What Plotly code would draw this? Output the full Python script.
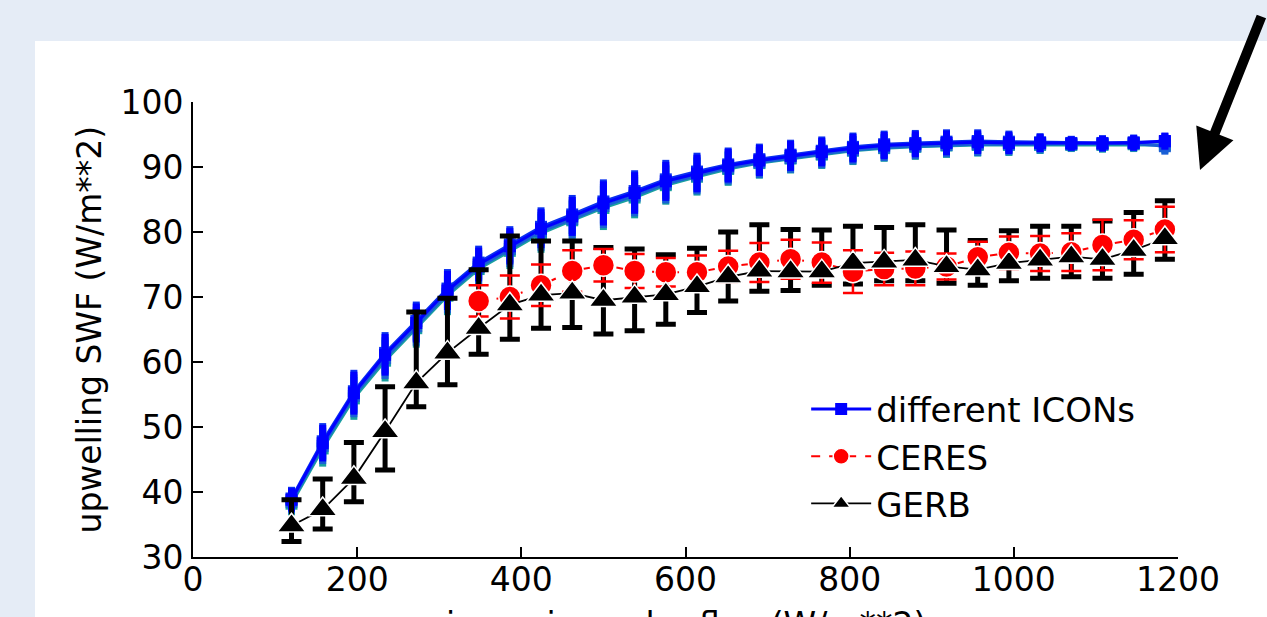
import plotly.graph_objects as go

# ---------------- data ----------------
flux = [120, 158, 196, 234, 272, 310, 348, 386, 424, 462, 500, 538, 576, 614, 652,
        690, 728, 766, 804, 842, 880, 918, 956, 994, 1032, 1070, 1108, 1146, 1184]

icon_a = [38.8, 47.5, 55.2, 61.1, 66.0, 71.0, 75.0, 77.8, 80.5, 82.4, 84.4, 86.0, 87.8, 89.0, 90.2,
          91.0, 91.7, 92.3, 92.9, 93.3, 93.5, 93.7, 93.8, 93.7, 93.7, 93.6, 93.6, 93.7, 94.0]
icon_b = [38.5, 47.1, 54.8, 60.6, 65.5, 70.5, 74.6, 77.4, 80.1, 82.0, 84.0, 85.6, 87.4, 88.7, 89.9,
          90.7, 91.4, 92.0, 92.6, 93.0, 93.2, 93.4, 93.5, 93.5, 93.5, 93.5, 93.5, 93.6, 93.2]
icon_c = [38.2, 46.7, 54.4, 60.2, 65.2, 70.2, 74.3, 77.1, 79.8, 81.8, 83.7, 85.3, 87.2, 88.5, 89.7,
          90.6, 91.3, 91.9, 92.5, 92.9, 93.1, 93.3, 93.4, 93.4, 93.4, 93.4, 93.4, 93.5, 93.4]
icon_d = [39.0, 47.8, 55.5, 61.4, 66.3, 71.3, 75.3, 78.1, 80.8, 82.7, 84.7, 86.3, 88.1, 89.3, 90.4,
          91.2, 91.9, 92.5, 93.1, 93.5, 93.7, 93.9, 94.0, 93.9, 93.8, 93.7, 93.7, 93.8, 93.9]
icon_err = [1.8, 2.8, 3.3, 3.2, 3.0, 3.0, 2.6, 2.8, 3.0, 3.0, 3.4, 3.2, 3.0, 2.9, 2.6,
            2.4, 2.3, 2.2, 2.2, 2.1, 2.0, 1.9, 1.8, 1.7, 1.4, 1.1, 1.2, 1.2, 1.3]

ceres_flux = [348, 386, 424, 462, 500, 538, 576, 614, 652, 690, 728, 766, 804, 842, 880,
              918, 956, 994, 1032, 1070, 1108, 1146, 1184]
ceres = [69.4, 70.0, 71.8, 74.0, 74.9, 74.0, 73.8, 73.8, 74.7, 75.3, 75.8, 75.3, 73.9, 74.3, 74.4,
         74.7, 76.1, 76.8, 76.7, 76.9, 78.0, 78.8, 80.4]
ceres_err = [2.4, 3.3, 3.2, 3.2, 2.5, 2.6, 2.2, 2.6, 2.4, 3.0, 3.0, 3.1, 3.3, 2.5, 2.6,
             2.0, 2.4, 2.5, 2.7, 2.9, 3.9, 3.0, 3.5]

gerb = [34.8, 37.3, 42.1, 49.3, 56.8, 61.4, 65.2, 68.8, 70.3, 70.6, 69.5, 70.0, 70.4, 71.6, 73.1,
        74.0, 73.9, 73.9, 75.2, 75.4, 75.7, 74.7, 74.2, 75.2, 75.7, 76.2, 75.8, 77.2, 79.0]
gerb_hi = [38.8, 42.0, 47.6, 56.2, 67.7, 69.8, 74.2, 79.4, 78.6, 78.6, 77.6, 77.4, 76.5, 77.5, 80.0,
           81.1, 80.4, 80.3, 80.9, 80.7, 81.1, 80.3, 78.7, 80.2, 80.9, 80.9, 81.7, 83.0, 84.8]
gerb_lo = [32.4, 34.3, 38.5, 43.4, 53.1, 56.5, 61.2, 63.5, 65.2, 65.3, 64.3, 64.8, 65.8, 67.6, 69.4,
           70.9, 71.0, 71.8, 72.0, 72.5, 72.5, 72.1, 71.8, 72.5, 72.9, 73.1, 72.9, 73.5, 75.8]

x_ticks = [0, 200, 400, 600, 800, 1000, 1200]
y_ticks = [30, 40, 50, 60, 70, 80, 90, 100]

FONT = "DejaVu Sans"

fig = go.Figure()

# ICON runs (drawn back to front)
icon_runs = [(icon_c, "#1aa0a0"), (icon_b, "#1a5fd6"), (icon_d, "#0a30f0"), (icon_a, "#0000ff")]
for i, (vals, col) in enumerate(icon_runs):
    last = i == len(icon_runs) - 1
    fig.add_trace(go.Scatter(
        x=flux, y=vals, mode="lines+markers",
        name="different ICONs", showlegend=last,
        line=dict(color=col, width=3),
        marker=dict(symbol="square", size=12, color=col, line=dict(width=0)),
        error_y=dict(type="data", array=icon_err, visible=True, color=col, thickness=7, width=0),
    ))

gerb_plus = [h - v for h, v in zip(gerb_hi, gerb)]
gerb_minus = [v - l for v, l in zip(gerb, gerb_lo)]

# GERB error bars (below CERES)
fig.add_trace(go.Scatter(
    x=flux, y=gerb, mode="lines", showlegend=False, hoverinfo="skip",
    line=dict(color="rgba(0,0,0,0)", width=0),
    error_y=dict(type="data", symmetric=False, array=gerb_plus, arrayminus=gerb_minus,
                 visible=True, color="black", thickness=5, width=10),
))

# CERES
fig.add_trace(go.Scatter(
    x=ceres_flux, y=ceres, mode="lines+markers", name="CERES",
    line=dict(color="#ff0000", width=2, dash="dash"),
    marker=dict(symbol="circle", size=22, color="#ff0000", line=dict(color="white", width=1.5)),
    error_y=dict(type="data", array=ceres_err, visible=True, color="#ff0000", thickness=2.5, width=10),
))

# GERB line + markers
fig.add_trace(go.Scatter(
    x=flux, y=gerb, mode="lines+markers", name="GERB",
    line=dict(color="black", width=1.8),
    marker=dict(symbol="triangle-up", size=25, color="black", line=dict(color="white", width=1.5)),
))

axis_common = dict(
    showgrid=False, zeroline=False, showline=True, linecolor="black", linewidth=2,
    ticks="inside", ticklen=10, tickwidth=1.5, tickcolor="black",
    tickfont=dict(family=FONT, size=33, color="black"), mirror=False, automargin=False,
)

fig.update_layout(
    width=1267, height=617,
    margin=dict(l=193, r=89, t=102, b=60),
    paper_bgcolor="#e5ecf6", plot_bgcolor="rgba(0,0,0,0)",
    font=dict(family=FONT, color="black"),
    xaxis=dict(range=[0, 1200], tickvals=x_ticks, ticklabelstandoff=-8, **axis_common),
    yaxis=dict(range=[30, 100], tickvals=y_ticks, ticklabelstandoff=1, **axis_common),
    legend=dict(x=0.6225, y=0.388, xanchor="left", yanchor="top", bgcolor="rgba(0,0,0,0)",
                font=dict(family=FONT, size=34, color="black"), itemwidth=60),
    shapes=[dict(type="rect", xref="paper", yref="paper", x0=-0.1604, x1=1.2, y0=-0.3, y1=1.134,
                 fillcolor="white", line=dict(width=0), layer="below")],
    annotations=[
        dict(xref="paper", yref="paper", x=(1200 - 193) / 985, y=(557 - 170) / 455,
             ax=62, ay=-155, text="", showarrow=True, arrowhead=2, arrowwidth=10,
             arrowsize=0.8, arrowcolor="black"),
        dict(xref="paper", yref="paper", x=0.5, y=(557 - 624) / 455, xanchor="center", yanchor="middle",
             text="incoming solar flux (W/m**2)", showarrow=False,
             font=dict(family=FONT, size=33, color="black")),
        dict(xref="paper", yref="paper", x=(89 - 193) / 985, y=0.5, xanchor="center", yanchor="middle",
             text="upwelling SWF (W/m**2)", textangle=-90, showarrow=False,
             font=dict(family=FONT, size=33, color="black")),
    ],
)

fig.write_html("out.html")
